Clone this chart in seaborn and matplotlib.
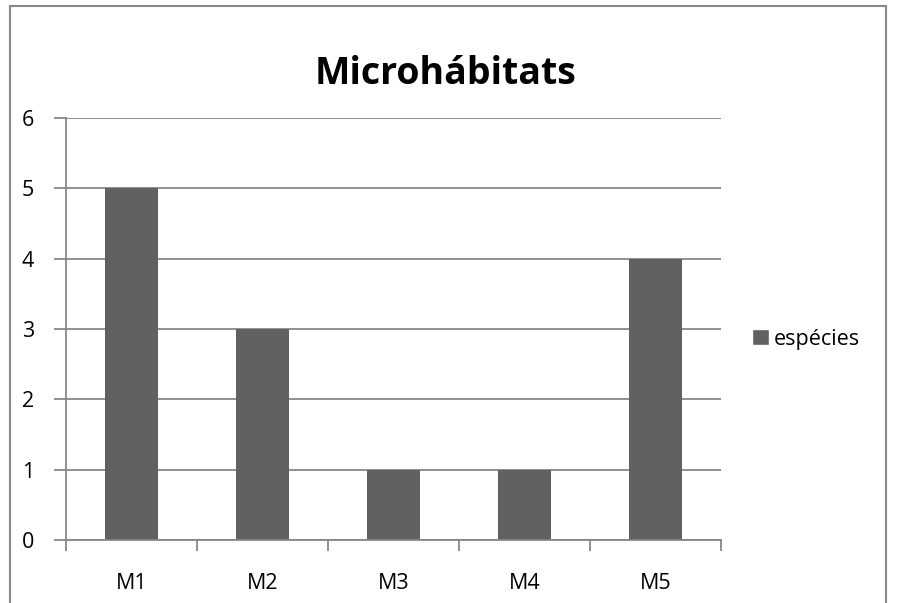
import matplotlib
matplotlib.use("Agg")
import matplotlib.pyplot as plt
import seaborn as sns
import pandas as pd
from matplotlib.patches import Rectangle, Patch

categories = ["M1", "M2", "M3", "M4", "M5"]
values = [5, 3, 1, 1, 4]
series_name = "espécies"
title = "Microhábitats"
yticks = [0, 1, 2, 3, 4, 5, 6]

sns.set_theme(style="white")
plt.rcParams['font.family'] = ['Open Sans', 'DejaVu Sans']
plt.rcParams['text.color'] = 'black'
plt.rcParams['xtick.color'] = 'black'
plt.rcParams['ytick.color'] = 'black'

df = pd.DataFrame({"cat": categories, "val": values})

W, H = 897, 603
fig = plt.figure(figsize=(W / 100, H / 100), dpi=100)
ax = fig.add_axes([66 / W, 1 - 540 / H, (721 - 66) / W, (540 - 118) / H])

bar_color = "#616161"
grid_color = "#878787"
sns.barplot(data=df, x="cat", y="val", color=bar_color, width=0.4, ax=ax,
            saturation=1, edgecolor="none")

ax.set_xlim(-0.5, len(categories) - 0.5)
ax.set_ylim(0, 6)
ax.set_yticks(yticks)
ax.set_yticklabels([str(t) for t in yticks], fontsize=15.5)
ax.set_xlabel("")
ax.set_ylabel("")
ax.tick_params(axis="x", labelsize=15.5, pad=18)
ax.grid(axis="y", color=grid_color, linewidth=1.3)
ax.set_axisbelow(True)
for s in ["top", "right"]:
    ax.spines[s].set_visible(False)
for s in ["left", "bottom"]:
    ax.spines[s].set_color(grid_color)
    ax.spines[s].set_linewidth(1.3)
ax.tick_params(axis="y", left=True, length=9, width=1.3, color=grid_color,
               labelcolor="black", pad=14)
ax.set_xticks([i - 0.5 for i in range(len(categories) + 1)], minor=True)
ax.tick_params(axis="x", which="major", bottom=False, labelcolor="black")
ax.tick_params(axis="x", which="minor", bottom=True, length=8, width=1.3, color=grid_color)

fig.text(445 / W, 1 - 74 / H, title, ha="center", va="center",
         fontsize=27, fontweight="bold", color="black")

leg = fig.legend(handles=[Patch(facecolor=bar_color, label=series_name)],
                 loc="center left", bbox_to_anchor=(733 / W, 1 - 339 / H),
                 frameon=False, fontsize=15.5, handlelength=0.75, handleheight=0.75,
                 handletextpad=0.25)
for t in leg.get_texts():
    t.set_color("black")

fig.patches.append(Rectangle((10 / W, -0.1), (886 - 10) / W, 1.1 - 6 / H,
                             transform=fig.transFigure, fill=False,
                             edgecolor="#888888", linewidth=1.5))

fig.savefig("out.png", dpi=100)
